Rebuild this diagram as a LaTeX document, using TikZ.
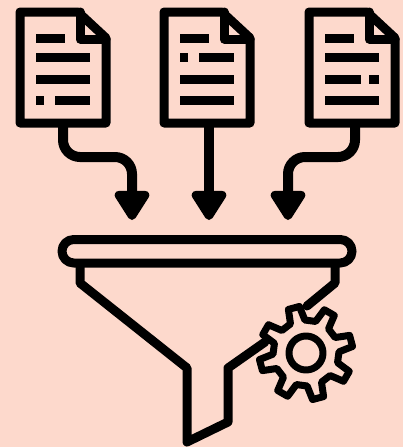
\documentclass[tikz,border=0pt]{standalone}
\usepackage{tikz}
\usetikzlibrary{arrows.meta}
\definecolor{peach}{RGB}{253,217,204}
\tikzset{
  outline/.style={draw=black, line width=9pt, line join=round, line cap=round},
  thinline/.style={draw=black, line width=7pt, line join=round},
  textbar/.style={draw=black, line width=9pt},
  arrow/.style={draw=black, line width=10pt, rounded corners=17pt, -{Triangle[width=39pt,length=33pt,round]}},
  docpage/.pic={
    \draw[outline] (20,12) -- (78,12) -- (106,38) -- (106,123) -- (20,123) -- cycle;
    \draw[outline] (80,12) -- (80,39) -- (106,39);
    \draw[textbar] (36,38) -- (65,38);
  }
}
\begin{document}
\begin{tikzpicture}[x=1pt, y=-1pt]
\fill[peach] (0,0) rectangle (403,447);
\useasboundingbox (0,0) rectangle (403,447);

% documents
\pic at (0,0) {docpage};
\pic at (144,0) {docpage};
\pic at (289,0) {docpage};

% text lines, first page
\draw[textbar] (36,57) -- (90,57);
\draw[textbar] (36,79) -- (90,79);
\draw[textbar] (36,100) -- (44,100);
\draw[textbar] (55,100) -- (90,100);
% second page
\draw[textbar] (180,57) -- (188,57);
\draw[textbar] (199,57) -- (234,57);
\draw[textbar] (180,79) -- (234,79);
\draw[textbar] (180,100) -- (234,100);
% third page
\draw[textbar] (325,57) -- (379,57);
\draw[textbar] (325,79) -- (361,79);
\draw[textbar] (369,79) -- (379,79);
\draw[textbar] (325,100) -- (379,100);

% arrows
\coordinate (outa) at (63,125);
\coordinate (outb) at (209,125);
\coordinate (outc) at (355,125);
\coordinate (tipa) at (132,220);
\coordinate (tipb) at (209,220);
\coordinate (tipc) at (288,220);
\draw[arrow] (outa) -- (63,157) -- (132,157) -- (tipa);
\draw[arrow] (outb) -- (tipb);
\draw[arrow] (outc) -- (355,157) -- (288,157) -- (tipc);

% funnel
\draw[outline, rounded corners=11.7pt] (62,239.5) rectangle (352,263);
\draw[outline] (80,266) -- (80,283) -- (187,368) -- (187,442) -- (228,422) -- (228,368) -- (265,342);
\draw[outline] (335,266) -- (335,283) -- (307,306);

% gear
\begin{scope}[shift={(306,353)}]
\draw[thinline] (17:33) \foreach \a in {30,75,...,345} { -- (\a-13:33) -- (\a-7:47) -- (\a+7:47) -- (\a+13:33) } -- cycle;
\draw[thinline] (0,0) circle (17);
\end{scope}
\end{tikzpicture}
\end{document}
